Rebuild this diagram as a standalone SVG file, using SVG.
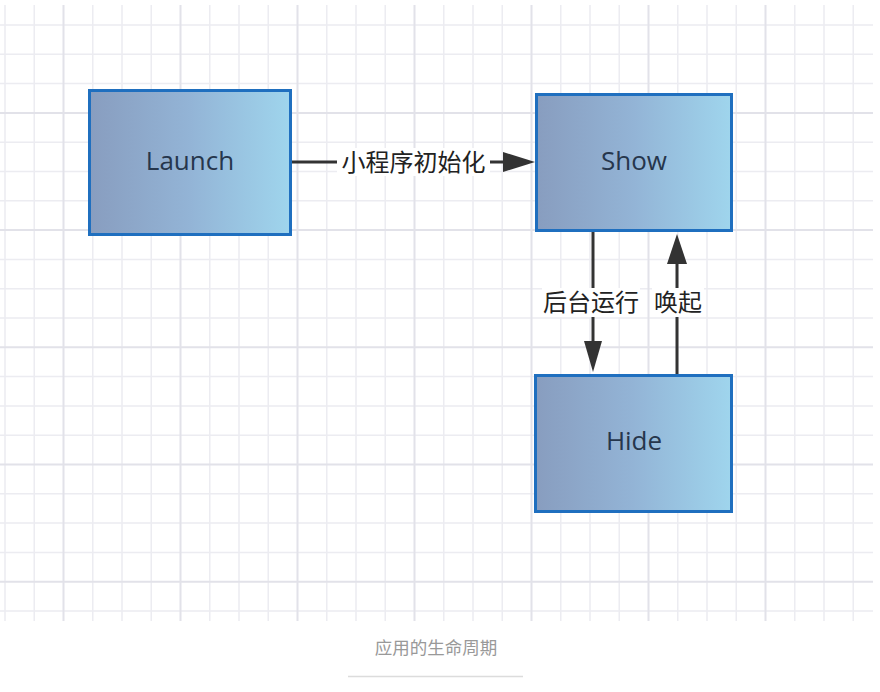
<svg xmlns="http://www.w3.org/2000/svg" width="880" height="692" viewBox="0 0 880 692">
<defs>
<linearGradient id="boxfill" x1="0" y1="0" x2="1" y2="0">
<stop offset="0" stop-color="#889dbf"/>
<stop offset="0.5" stop-color="#93b4d6"/>
<stop offset="1" stop-color="#9fd5ed"/>
</linearGradient>
<clipPath id="gridclip"><rect x="0" y="5" width="873" height="616"/></clipPath>
</defs>
<style>
.minor{stroke:#ececf1;stroke-width:1.5;fill:none}
.major{stroke:#e2e2e9;stroke-width:2;fill:none}
.box{fill:url(#boxfill);stroke:#1f6fbf;stroke-width:3}
.name{font-family:"Open Sans","Noto Sans",sans-serif;font-size:26px;fill:#26364c;text-anchor:middle}
.edge{stroke:#333;stroke-width:3;fill:none}
.head{fill:#333}
.lbl{font-family:"Noto Sans CJK SC",sans-serif;font-size:24px;fill:#222;text-anchor:middle}
.lblbg{fill:#fff}
.cap{font-family:"Noto Sans CJK SC",sans-serif;font-size:17.5px;fill:#999;text-anchor:middle}
</style>
<rect width="880" height="692" fill="#fff"/>
<g id="grid" clip-path="url(#gridclip)">
<path class="minor" d="M5,0V621 M34.25,0V621 M92.75,0V621 M122,0V621 M151.25,0V621 M209.75,0V621 M239,0V621 M268.25,0V621 M326.75,0V621 M356,0V621 M385.25,0V621 M443.75,0V621 M473,0V621 M502.25,0V621 M560.75,0V621 M590,0V621 M619.25,0V621 M677.75,0V621 M707,0V621 M736.25,0V621 M794.75,0V621 M824,0V621 M853.25,0V621"/>
<path class="minor" d="M0,25H873 M0,54.3H873 M0,83.6H873 M0,142.2H873 M0,171.5H873 M0,200.8H873 M0,259.4H873 M0,288.7H873 M0,318H873 M0,376.6H873 M0,405.9H873 M0,435.2H873 M0,493.8H873 M0,523.1H873 M0,552.4H873 M0,611H873"/>
<path class="major" d="M63.5,0V621 M180.5,0V621 M297.5,0V621 M414.5,0V621 M531.5,0V621 M648.5,0V621 M765.5,0V621"/>
<path class="major" d="M0,112.9H873 M0,230.1H873 M0,347.3H873 M0,464.5H873 M0,581.7H873"/>
</g>
<g id="connectors">
<g id="e-launch-show">
<path class="edge" d="M292,162H510"/>
<path class="head" d="M503,152 L535,162 L503,172 Z"/>
<rect class="lblbg" x="337" y="148" width="153" height="28"/>
<text class="lbl" x="413.5" y="170.5">小程序初始化</text>
</g>
<g id="e-show-hide">
<path class="edge" d="M593,232V345"/>
<path class="head" d="M584,341 L593,372 L602,341 Z"/>
<rect class="lblbg" x="542" y="288" width="98" height="29"/>
<text class="lbl" x="591" y="311">后台运行</text>
</g>
<g id="e-hide-show">
<path class="edge" d="M677,375V262"/>
<path class="head" d="M667,264 L677,234 L687,264 Z"/>
<rect class="lblbg" x="652" y="288" width="52" height="29"/>
<text class="lbl" x="678" y="311">唤起</text>
</g>
</g>
<g id="launch">
<rect class="box" x="89.5" y="90.5" width="201" height="144"/>
<text class="name" x="190" y="170">Launch</text>
</g>
<g id="show">
<rect class="box" x="536.5" y="94.5" width="195" height="136"/>
<text class="name" x="634" y="170">Show</text>
</g>
<g id="hide">
<rect class="box" x="535.5" y="375.5" width="196" height="136"/>
<text class="name" x="634" y="450">Hide</text>
</g>
<g id="caption">
<text class="cap" x="436" y="654">应用的生命周期</text>
<path d="M348,676.5H523" stroke="#dcdcdc" stroke-width="1.5"/>
</g>
</svg>
